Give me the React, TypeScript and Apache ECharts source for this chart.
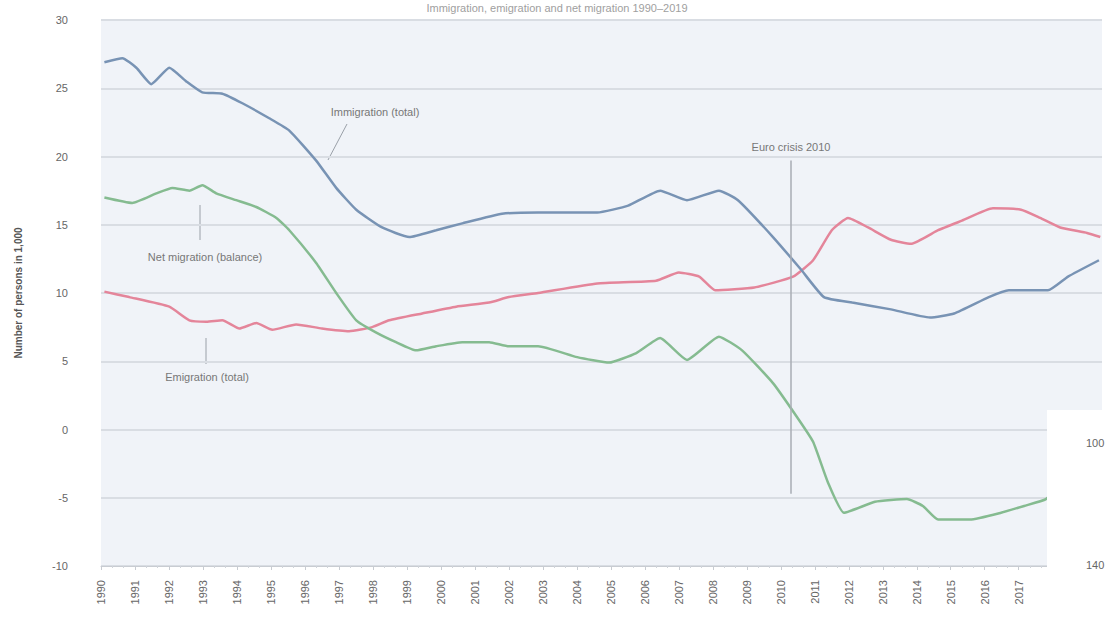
import React, { useEffect, useRef } from "react";
import * as echarts from "echarts";

// decimal years (x) and values in thousands of persons (y)
const immigrationX = [1990.1, 1990.63, 1991.04, 1991.48, 1992.01, 1992.51, 1992.98, 1993.57, 1994.16, 1994.95, 1995.54, 1996.33, 1996.92, 1997.51, 1998.27, 1999.07, 1999.86, 2000.63, 2001.8, 2002.86, 2004.6, 2005.51, 2006.45, 2007.24, 2008.18, 2008.74, 2009.77, 2010.6, 2011.27, 2012.1, 2013.24, 2014.39, 2015.1, 2016.12, 2016.71, 2017.86, 2018.45, 2019.36];
const immigration = [26.9, 27.2, 26.5, 25.3, 26.5, 25.5, 24.7, 24.6, 23.9, 22.8, 21.9, 19.7, 17.7, 16.1, 14.8, 14.1, 14.6, 15.1, 15.8, 15.9, 15.9, 16.4, 17.5, 16.8, 17.5, 16.8, 14.1, 11.7, 9.7, 9.3, 8.8, 8.2, 8.5, 9.7, 10.2, 10.2, 11.2, 12.4];

const emigrationX = [1990.1, 1990.83, 1992.01, 1992.6, 1993.1, 1993.57, 1994.07, 1994.57, 1995.04, 1995.74, 1996.5, 1997.3, 1997.98, 1998.48, 1999.45, 2000.45, 2001.42, 2002.0, 2002.86, 2004.6, 2006.33, 2007.0, 2007.6, 2008.07, 2009.22, 2010.36, 2010.95, 2011.5, 2011.98, 2012.57, 2013.24, 2013.83, 2014.63, 2015.33, 2016.24, 2017.07, 2017.63, 2018.22, 2019.01, 2019.4];
const emigration = [10.1, 9.7, 9.0, 8.0, 7.9, 8.0, 7.4, 7.8, 7.3, 7.7, 7.4, 7.2, 7.5, 8.0, 8.5, 9.0, 9.3, 9.7, 10.0, 10.7, 10.9, 11.5, 11.2, 10.2, 10.4, 11.2, 12.4, 14.6, 15.5, 14.8, 13.9, 13.6, 14.6, 15.3, 16.2, 16.1, 15.5, 14.8, 14.4, 14.1];

const netX = [1990.1, 1990.92, 1991.63, 1992.1, 1992.6, 1992.98, 1993.39, 1993.98, 1994.57, 1995.16, 1995.54, 1996.33, 1996.92, 1997.51, 1998.1, 1998.68, 1999.27, 1999.86, 2000.63, 2001.42, 2002.0, 2002.86, 2004.01, 2004.95, 2005.75, 2006.45, 2007.24, 2008.18, 2008.86, 2009.77, 2010.48, 2010.95, 2011.39, 2011.86, 2012.77, 2013.71, 2014.18, 2014.63, 2015.57, 2016.48, 2017.16, 2017.8, 2018.5, 2019.4];
const netMigration = [17.0, 16.6, 17.3, 17.7, 17.5, 17.9, 17.3, 16.8, 16.3, 15.5, 14.6, 12.2, 10.0, 8.0, 7.1, 6.4, 5.8, 6.1, 6.4, 6.4, 6.1, 6.1, 5.3, 4.9, 5.6, 6.7, 5.1, 6.8, 5.8, 3.4, 0.9, -0.9, -3.9, -6.1, -5.3, -5.1, -5.6, -6.6, -6.6, -6.1, -5.6, -5.1, -3.6, -1.7];

const seriesNames = ["Immigration (total)", "Emigration (total)", "Net migration (balance)"];
const eventYear = 2010.3;
const eventLabel = "Euro crisis 2010";
const yTicks = { min: -10, max: 30, interval: 5 };
const xRange = { min: 1990, max: 2019.45 };

const pairs = (xs: number[], ys: number[]) => xs.map((x, i) => [x, ys[i]]);

export default function App() {
  const ref = useRef<HTMLDivElement>(null);
  useEffect(() => {
    if (!ref.current) return;
    const chart = echarts.init(ref.current, null, { renderer: "svg" });
    const font = "Arial, 'Liberation Sans', sans-serif";
    chart.setOption({
      animation: false,
      backgroundColor: "#ffffff",
      textStyle: { fontFamily: font },
      title: {
        text: "Immigration, emigration and net migration 1990–2019",
        left: "center",
        top: -3,
        textStyle: { fontSize: 11, color: "#a0a0a0", fontWeight: "normal", fontFamily: font },
      },
      grid: {
        left: 101,
        right: 12,
        top: 20,
        bottom: 75,
        show: true,
        backgroundColor: "#f0f3f8",
        borderWidth: 0,
      },
      xAxis: {
        type: "value",
        min: xRange.min,
        max: xRange.max,
        interval: 1,
        axisLine: { show: true, onZero: false, lineStyle: { color: "#c8ccd2" } },
        axisTick: { show: true, length: 4, lineStyle: { color: "#c8ccd2" } },
        minorTick: { show: true, splitNumber: 3, length: 2, lineStyle: { color: "#d0d4da" } },
        splitLine: { show: false },
        axisLabel: {
          rotate: 90,
          margin: 14,
          fontSize: 11,
          color: "#666",
          formatter: (v: number) => (Number.isInteger(v) ? String(v) : ""),
        },
      },
      yAxis: {
        type: "value",
        min: yTicks.min,
        max: yTicks.max,
        interval: yTicks.interval,
        name: "Number of persons in 1,000",
        nameLocation: "middle",
        nameRotate: 90,
        nameGap: 78,
        nameTextStyle: { fontSize: 10, color: "#555", fontWeight: "bold" },
        axisLine: { show: false },
        axisTick: { show: false },
        axisLabel: { fontSize: 11, color: "#666", margin: 33 },
        splitLine: { show: true, lineStyle: { color: "#d9dde3", width: 2 } },
      },
      series: [
        {
          name: seriesNames[0],
          type: "line",
          data: pairs(immigrationX, immigration),
          showSymbol: false,
          smooth: 0.15,
          lineStyle: { color: "#7893b4", width: 2.5 },
          itemStyle: { color: "#7893b4" },
          z: 3,
          markLine: {
            silent: true,
            symbol: "none",
            lineStyle: { color: "#a8adb5", width: 1.5, type: "solid" },
            label: {
              show: true,
              position: "start",
              formatter: eventLabel,
              fontSize: 11,
              color: "#777",
              distance: 8,
            },
            data: [[{ coord: [eventYear, 19.7] }, { coord: [eventYear, -4.7] }]],
          },
        },
        {
          name: seriesNames[1],
          type: "line",
          data: pairs(emigrationX, emigration),
          showSymbol: false,
          smooth: 0.15,
          lineStyle: { color: "#e4859a", width: 2.5 },
          itemStyle: { color: "#e4859a" },
          z: 2,
        },
        {
          name: seriesNames[2],
          type: "line",
          data: pairs(netX, netMigration),
          showSymbol: false,
          smooth: 0.15,
          lineStyle: { color: "#85bb90", width: 2.5 },
          itemStyle: { color: "#85bb90" },
          z: 2,
        },
      ],
      graphic: [
        { type: "line", shape: { x1: 347, y1: 124, x2: 328, y2: 160 }, style: { stroke: "#9aa0a8", lineWidth: 1 } },
        { type: "text", x: 375, y: 112, style: { text: seriesNames[0], fontSize: 11, fill: "#777", align: "center", verticalAlign: "middle", fontFamily: font } },
        { type: "line", shape: { x1: 200, y1: 205, x2: 200, y2: 240 }, style: { stroke: "#9aa0a8", lineWidth: 1 } },
        { type: "text", x: 205, y: 257, style: { text: seriesNames[2], fontSize: 11, fill: "#777", align: "center", verticalAlign: "middle", fontFamily: font } },
        { type: "line", shape: { x1: 206, y1: 338, x2: 206, y2: 364 }, style: { stroke: "#9aa0a8", lineWidth: 1 } },
        { type: "text", x: 207, y: 377, style: { text: seriesNames[1], fontSize: 11, fill: "#777", align: "center", verticalAlign: "middle", fontFamily: font } },
        { type: "rect", z: 100, shape: { x: 1047, y: 410, width: 67, height: 231 }, style: { fill: "#ffffff" } },
        { type: "text", z: 101, x: 1086, y: 443, style: { text: "100", fontSize: 11, fill: "#666", verticalAlign: "middle", fontFamily: font } },
        { type: "text", z: 101, x: 1086, y: 565, style: { text: "140", fontSize: 11, fill: "#666", verticalAlign: "middle", fontFamily: font } },
      ],
    });
    return () => chart.dispose();
  }, []);
  return (
    <div
      ref={ref}
      style={{ position: "fixed", left: 0, top: 0, width: 1114, height: 641 }}
    />
  );
}
